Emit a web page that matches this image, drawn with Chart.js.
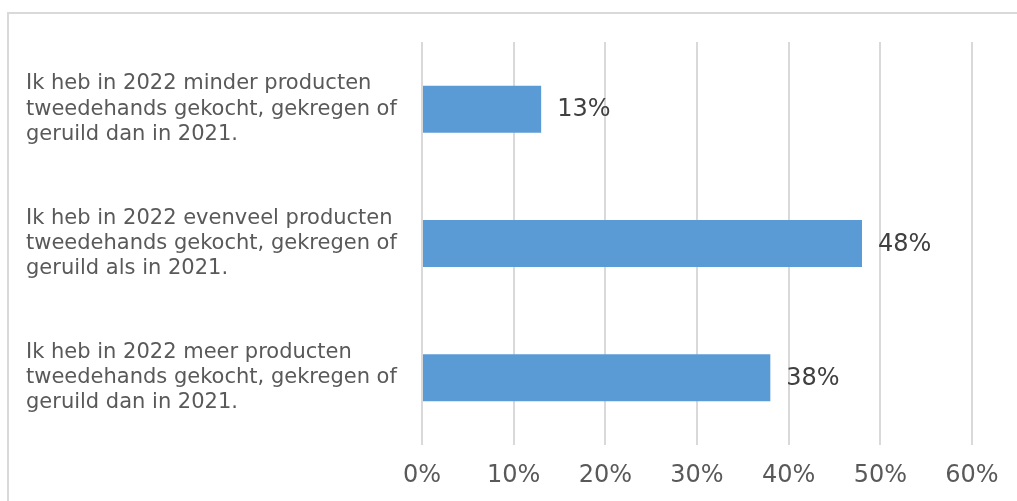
<!DOCTYPE html>
<html>
<head>
<meta charset="utf-8">
<script src="https://cdn.jsdelivr.net/npm/chart.js@4"></script>
<style>
  html, body { margin: 0; padding: 0; background: #fff; overflow: hidden; }
  #frame {
    position: absolute; left: 7px; top: 12px;
    width: 1100px; height: 600px;
    border: 2px solid #d9d9d9;
  }
  #wrap { position: absolute; left: 0; top: 0; width: 1017px; height: 501px; }
</style>
</head>
<body>
<div id="frame"></div>
<div id="wrap"><canvas id="chart"></canvas></div>
<script>
// category labels, one array per line
const categories = [
  ['Ik heb in 2022 minder producten', 'tweedehands gekocht, gekregen of', 'geruild dan in 2021.'],
  ['Ik heb in 2022 evenveel producten', 'tweedehands gekocht, gekregen of', 'geruild als in 2021.'],
  ['Ik heb in 2022 meer producten', 'tweedehands gekocht, gekregen of', 'geruild dan in 2021.']
];
const values = [13, 48, 38];
const xTicks = [0, 10, 20, 30, 40, 50, 60];

const FONT = "'DejaVu Sans', Verdana, sans-serif";

// draw "13%" etc. just right of each bar end
const valueLabels = {
  id: 'valueLabels',
  afterDatasetsDraw(chart) {
    const ctx = chart.ctx;
    const meta = chart.getDatasetMeta(0);
    ctx.save();
    ctx.font = '24px ' + FONT;
    ctx.fillStyle = '#404040';
    ctx.textAlign = 'left';
    ctx.textBaseline = 'middle';
    meta.data.forEach((bar, i) => {
      ctx.fillText(values[i] + '%', bar.x + 16, bar.y + 1);
    });
    ctx.restore();
  }
};

new Chart(document.getElementById('chart'), {
  type: 'bar',
  data: {
    labels: categories,
    datasets: [{
      data: values,
      backgroundColor: '#5b9bd5',
      borderWidth: 0,
      barPercentage: 0.35,
      categoryPercentage: 1
    }]
  },
  options: {
    indexAxis: 'y',
    responsive: true,
    maintainAspectRatio: false,
    animation: false,
    layout: { padding: { top: 42, left: 26, right: 45, bottom: 0 } },
    plugins: {
      legend: { display: false },
      tooltip: { enabled: false }
    },
    scales: {
      x: {
        min: 0,
        max: 60,
        afterBuildTicks(scale) {
          scale.ticks = xTicks.map(v => ({ value: v }));
        },
        afterFit(scale) { scale.height = 56; },
        grid: { color: '#d9d9d9', lineWidth: 2, drawTicks: false },
        border: { display: false },
        ticks: {
          padding: 16,
          color: '#595959',
          font: { family: FONT, size: 24 },
          callback: v => v + '%'
        }
      },
      y: {
        afterFit(scale) { scale.width = 396; },
        grid: { display: false },
        border: { display: false },
        ticks: {
          crossAlign: 'far',
          color: '#595959',
          font: { family: FONT, size: 21, lineHeight: 1.2 }
        }
      }
    }
  },
  plugins: [valueLabels]
});
</script>
</body>
</html>
